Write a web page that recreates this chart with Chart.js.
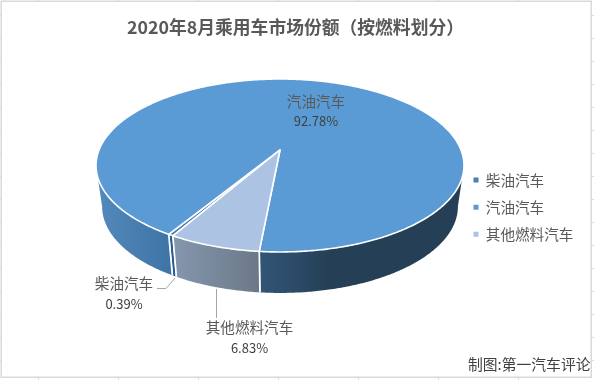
<!DOCTYPE html>
<html>
<head>
<meta charset="utf-8">
<style>
  html, body { margin: 0; padding: 0; background: #fff; }
  canvas { display: block; }
</style>
<script src="https://cdn.jsdelivr.net/npm/chart.js@4/dist/chart.umd.min.js"></script>
</head>
<body>
<canvas id="shareChart" width="594" height="380"></canvas>
<script>
const titleText = "2020年8月乘用车市场份额（按燃料划分）";
const creditText = "制图:第一汽车评论";
const categories = ["柴油汽车", "汽油汽车", "其他燃料汽车"];
const shares = [0.39, 92.78, 6.83];
const colors = ["#4a7fb0", "#5b9bd5", "#adc3e3"];

const FONT = '"Noto Sans CJK SC", "Noto Sans", sans-serif';

// the pie lies on its back, seen in perspective
const tilt = { cx: 280, cy: 150, rx: 181, ry: 83.7, q: 0.179, depth: 41, baseShrink: 0.967 };

// shading of the side wall, left to right, per slice
const wallShades = [
  [["#2c5f8e", "#2c5f8e"]],
  [["#5389bb", "#3f75a6"], ["#325678", "#243f56", 0.35]],
  [["#8597ae", "#6b7888"]]
];

function project(angle, drop, shrink) {
  const u = Math.cos(angle);
  const v = Math.sin(angle);
  const w = 1 - tilt.q * v;
  return {
    x: tilt.cx + tilt.rx * shrink * u / w,
    y: tilt.cy + tilt.ry * v / w + drop
  };
}

function traceRim(ctx, from, to, drop, shrink) {
  const steps = Math.max(2, Math.ceil(Math.abs(to - from) / 0.01));
  for (let i = 0; i <= steps; i++) {
    const p = project(from + (to - from) * i / steps, drop, shrink);
    ctx.lineTo(p.x, p.y);
  }
}

// top face of each slice, angles come from the pie controller
Chart.ArcElement.prototype.draw = function (ctx) {
  ctx.save();
  ctx.beginPath();
  ctx.moveTo(tilt.cx, tilt.cy);
  traceRim(ctx, this.startAngle, this.endAngle, 0, 1);
  ctx.closePath();
  ctx.fillStyle = this.options.backgroundColor;
  ctx.fill();
  ctx.strokeStyle = "#fff";
  ctx.lineWidth = 1.6;
  ctx.lineJoin = "round";
  ctx.stroke();
  ctx.restore();
};

const sheetGrid = {
  id: "sheetGrid",
  beforeDraw(chart) {
    const ctx = chart.ctx;
    ctx.save();
    ctx.strokeStyle = "#d9d9d9";
    ctx.lineWidth = 1.5;
    ctx.strokeRect(1.25, 1.25, 590, 376);
    ctx.lineWidth = 1;
    ctx.beginPath();
    for (let x = 38.5; x < 594; x += 80) {
      ctx.moveTo(x, 0); ctx.lineTo(x, 1);
      ctx.moveTo(x, 378); ctx.lineTo(x, 380);
    }
    for (let y = 15.5; y < 370; y += 23) {
      ctx.moveTo(0, y); ctx.lineTo(1, y);
      ctx.moveTo(592, y); ctx.lineTo(594, y);
    }
    ctx.stroke();
    ctx.restore();
  }
};

const sideWalls = {
  id: "sideWalls",
  beforeDatasetsDraw(chart) {
    const ctx = chart.ctx;
    const front = 0.18;
    const twoPi = Math.PI * 2;
    chart.getDatasetMeta(0).data.forEach((arc, i) => {
      let part = 0;
      for (let turn = -1; turn <= 2; turn++) {
        const from = Math.max(arc.startAngle, front + turn * twoPi);
        const to = Math.min(arc.endAngle, Math.PI - front + turn * twoPi);
        if (from >= to) continue;
        const shade = wallShades[i][part] || wallShades[i][0];
        part++;
        const a = project(from, 0, 1);
        const b = project(to, 0, 1);
        const left = Math.min(a.x, b.x);
        const right = Math.max(a.x, b.x);
        const grad = ctx.createLinearGradient(left, 0, right, 0);
        grad.addColorStop(0, shade[0]);
        grad.addColorStop(shade[2] || 1, shade[1]);
        grad.addColorStop(1, shade[1]);
        ctx.save();
        ctx.beginPath();
        ctx.moveTo(a.x, a.y);
        traceRim(ctx, from, to, 0, 1);
        traceRim(ctx, to, from, tilt.depth, tilt.baseShrink);
        ctx.closePath();
        ctx.fillStyle = grad;
        ctx.fill();
        ctx.strokeStyle = "#fff";
        ctx.lineWidth = 1.6;
        ctx.beginPath();
        [[from, front], [to, Math.PI - front]].forEach(([t, limit]) => {
          if (Math.abs(((t % twoPi) + twoPi) % twoPi - limit) < 0.001) return;
          const top = project(t, 0, 1);
          const bottom = project(t, tilt.depth, tilt.baseShrink);
          ctx.moveTo(top.x, top.y);
          ctx.lineTo(bottom.x, bottom.y);
        });
        ctx.stroke();
        ctx.restore();
      }
    });
  }
};

const dataLabels = {
  id: "dataLabels",
  afterLayout(chart) {
    chart.legend.left = 461;
  },
  afterDraw(chart) {
    const ctx = chart.ctx;
    const spots = [
      { x: 124, y: 283, gap: 21 },
      { x: 316, y: 101, gap: 20 },
      { x: 249.5, y: 327, gap: 21 }
    ];
    ctx.save();
    // leader lines
    ctx.strokeStyle = "#a6a6a6";
    ctx.lineWidth = 1;
    ctx.beginPath();
    ctx.moveTo(157, 288.5); ctx.lineTo(166, 288.5); ctx.lineTo(175, 278);
    ctx.moveTo(216.5, 289); ctx.lineTo(216.5, 318);
    ctx.stroke();

    ctx.textAlign = "center";
    ctx.textBaseline = "middle";
    categories.forEach((name, i) => {
      const s = spots[i];
      ctx.font = "14.6px " + FONT;
      ctx.fillStyle = "#595959";
      ctx.fillText(name, s.x, s.y);
      ctx.font = "13px " + FONT;
      ctx.fillStyle = "#404040";
      ctx.fillText(shares[i].toFixed(2) + "%", s.x, s.y + s.gap);
    });
    ctx.textAlign = "left";
    ctx.font = "14.8px " + FONT;
    ctx.fillStyle = "#404040";
    ctx.fillText(creditText, 468, 364);
    ctx.restore();
  }
};

new Chart(document.getElementById("shareChart"), {
  type: "pie",
  data: {
    labels: categories,
    datasets: [{
      data: shares,
      backgroundColor: colors,
      borderColor: "#fff",
      borderWidth: 1.6
    }]
  },
  options: {
    responsive: false,
    animation: false,
    rotation: 210,
    layout: { padding: { left: 0, right: 3, top: 0, bottom: 10 } },
    plugins: {
      title: {
        display: true,
        text: titleText,
        color: "#595959",
        font: { family: FONT, size: 17.8, weight: "bold" },
        padding: { top: 17, bottom: 6 }
      },
      legend: {
        position: "right",
        fullSize: false,
        labels: {
          boxWidth: 5,
          boxHeight: 5,
          padding: 12.5,
          color: "#595959",
          font: { family: FONT, size: 14.6 },
          generateLabels(chart) {
            return Chart.PieController.overrides.plugins.legend.labels
              .generateLabels(chart)
              .map(item => ({ ...item, lineWidth: 0 }));
          }
        }
      },
      tooltip: { enabled: false }
    }
  },
  plugins: [sheetGrid, sideWalls, dataLabels]
});
</script>
</body>
</html>
